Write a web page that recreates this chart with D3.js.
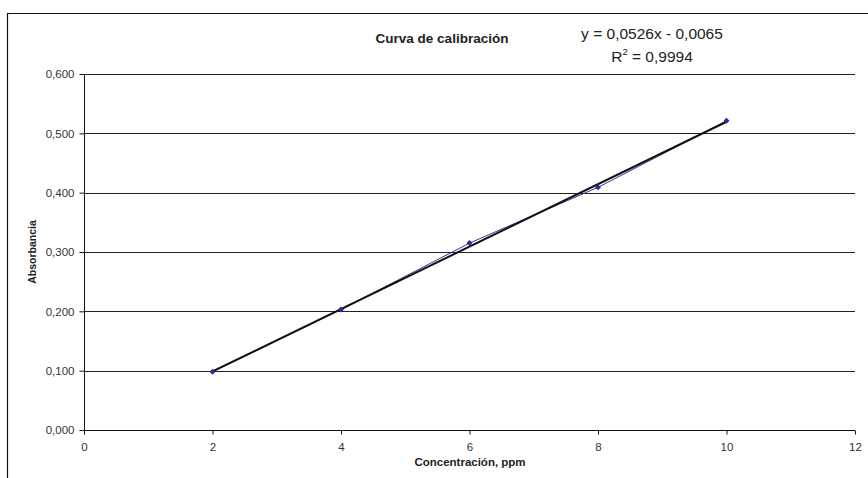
<!DOCTYPE html>
<html>
<head>
<meta charset="utf-8">
<script src="https://cdn.jsdelivr.net/npm/d3@7"></script>
<style>
  html, body { margin: 0; padding: 0; background: #fff; }
  svg { display: block; font-family: "Liberation Sans", Arial, sans-serif; }
</style>
</head>
<body>
<svg id="chart" width="868" height="478"></svg>
<script>
// Calibration standards: concentration (ppm) and measured absorbance
const concentration = [2, 4, 6, 8, 10];
const absorbance = [0.098, 0.203, 0.315, 0.409, 0.521];

// Linear fit shown on the chart
const fitSlope = 0.0526;
const fitIntercept = -0.0065;
const fitR2 = 0.9994;

// Axis ticks
const xTicks = [0, 2, 4, 6, 8, 10, 12];
const yTicks = [0, 0.1, 0.2, 0.3, 0.4, 0.5, 0.6];

const comma = (v, digits) => v.toFixed(digits).replace(".", ",");

const svg = d3.select("#chart");
const plot = { left: 84, right: 855, top: 74, bottom: 430 };

const x = d3.scaleLinear().domain([0, 12]).range([plot.left, plot.right]);
const y = d3.scaleLinear().domain([0, 0.6]).range([plot.bottom, plot.top]);

// Outer chart frame (top and left edges)
svg.append("path")
  .attr("d", "M7.5,478 V13.5 H868")
  .attr("fill", "none")
  .attr("stroke", "#111")
  .attr("stroke-width", 1.2);

// Horizontal gridlines
svg.append("g")
  .selectAll("line")
  .data(yTicks.filter(d => d > 0))
  .join("line")
  .attr("x1", plot.left)
  .attr("x2", plot.right)
  .attr("y1", d => Math.round(y(d)) + 0.5)
  .attr("y2", d => Math.round(y(d)) + 0.5)
  .attr("stroke", "#222")
  .attr("stroke-width", 1);

// Y axis
const yAxis = svg.append("g")
  .attr("transform", `translate(${plot.left + 0.5},0)`)
  .call(d3.axisLeft(y).tickValues(yTicks).tickSize(5).tickPadding(5)
    .tickFormat(d => comma(d, 3)));
yAxis.select(".domain").attr("stroke", "#111").attr("d", `M0,${plot.bottom}V${plot.top}`);
yAxis.selectAll(".tick line").attr("stroke", "#111");
yAxis.selectAll(".tick text")
  .attr("font-size", 11.5)
  .attr("fill", "#333")
  .attr("font-family", "Liberation Sans, Arial, sans-serif");

// X axis
const xAxis = svg.append("g")
  .attr("transform", `translate(0,${plot.bottom + 0.5})`)
  .call(d3.axisBottom(x).tickValues(xTicks).tickSize(4).tickPadding(8)
    .tickFormat(d => d));
xAxis.select(".domain").attr("stroke", "#111").attr("d", `M${plot.left},0H${plot.right}`);
xAxis.selectAll(".tick line").attr("stroke", "#111");
xAxis.selectAll(".tick text")
  .attr("font-size", 11.5)
  .attr("fill", "#333")
  .attr("font-family", "Liberation Sans, Arial, sans-serif");

// Axis titles
svg.append("text")
  .attr("x", 470).attr("y", 466)
  .attr("text-anchor", "middle")
  .attr("font-size", 11.5)
  .attr("font-weight", "bold")
  .attr("fill", "#222")
  .text("Concentración, ppm");

svg.append("text")
  .attr("transform", `translate(36,252) rotate(-90)`)
  .attr("text-anchor", "middle")
  .attr("font-size", 10.5)
  .attr("font-weight", "bold")
  .attr("fill", "#222")
  .text("Absorbancia");

// Chart title
svg.append("text")
  .attr("x", 442).attr("y", 43)
  .attr("text-anchor", "middle")
  .attr("font-size", 13.5)
  .attr("font-weight", "bold")
  .attr("fill", "#222")
  .text("Curva de calibración");

// Data series line
const pts = concentration.map((c, i) => [c, absorbance[i]]);
svg.append("path")
  .datum(pts)
  .attr("fill", "none")
  .attr("stroke", "#3434aa")
  .attr("stroke-width", 1)
  .attr("d", d3.line().x(d => x(d[0])).y(d => y(d[1])));

// Linear trendline over the measured range
const xMin = d3.min(concentration), xMax = d3.max(concentration);
svg.append("line")
  .attr("x1", x(xMin)).attr("y1", y(fitSlope * xMin + fitIntercept))
  .attr("x2", x(xMax)).attr("y2", y(fitSlope * xMax + fitIntercept))
  .attr("stroke", "#111")
  .attr("stroke-width", 2);

// Diamond markers (squares turned 45°)
svg.append("g")
  .selectAll("path")
  .data(pts)
  .join("path")
  .attr("transform", d => `translate(${x(d[0])},${y(d[1])}) rotate(45)`)
  .attr("d", d3.symbol().type(d3.symbolSquare).size(18))
  .attr("fill", "#2b2b9a");

// Fit equation
const eq = svg.append("g").attr("fill", "#222").attr("font-size", 15.5);
eq.append("text")
  .attr("x", 652).attr("y", 39)
  .attr("text-anchor", "middle")
  .text(`y = ${comma(fitSlope, 4)}x - ${comma(-fitIntercept, 4)}`);
const r2 = eq.append("text")
  .attr("x", 652).attr("y", 62)
  .attr("text-anchor", "middle");
r2.append("tspan").text("R");
r2.append("tspan").attr("dy", -7).attr("font-size", 9.5).text("2");
r2.append("tspan").attr("dy", 7).text(` = ${comma(fitR2, 4)}`);
</script>
</body>
</html>
